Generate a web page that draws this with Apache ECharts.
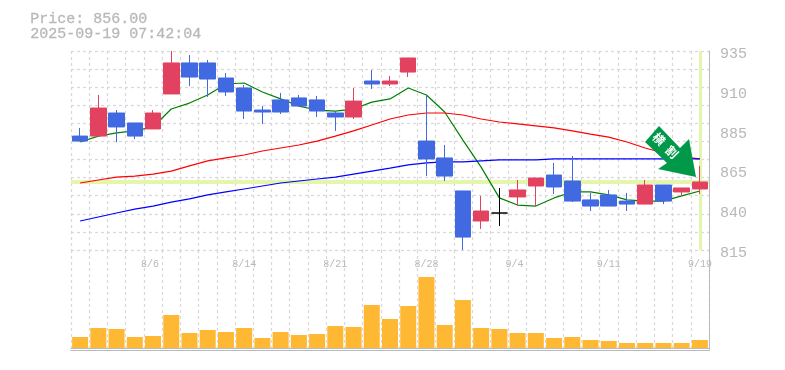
<!DOCTYPE html>
<html><head><meta charset="utf-8">
<style>html,body{margin:0;padding:0;background:#fff}#c{width:785px;height:370px}</style>
<script src="https://cdn.jsdelivr.net/npm/echarts@6/dist/echarts.min.js"></script>
</head><body><div id="c"></div>
<script>
const dateLabels = {4:'8/6',9:'8/14',14:'8/21',19:'8/28',24:'9/4',29:'9/11',34:'9/19'};
const categories = Array.from({length:35},(_,i)=>dateLabels[i]||('d'+i));
const opens  = [883.7,883.7,897.6,891.6,888,909.1,927.8,927.8,918.7,912.7,899.4,905.5,906.7,905.5,897.6,895.2,916.9,915.1,922.3,880.7,870.5,850.6,832.5,837.3,847,853.6,860.2,856.6,845.2,848.2,844.5,842.7,854.2,850,851.8];
const closes = [880.7,900.6,889.2,883.7,897.6,927.8,919.3,918.1,910.3,898.8,898.2,898.2,901.8,898.8,895.2,904.8,915.1,916.9,930.8,869.9,859.6,822.8,838.5,837.3,851.2,858.4,853,844.5,841.5,841.5,842.7,854.2,844.5,852.4,856];
const lows   = [880.7,883.7,880,881.9,888,909.1,913.9,907.3,907.9,894,891,897,901.8,895.2,886.8,894,912.1,913.9,919.3,859.6,856.6,815,827.7,829.5,841.5,841.5,848.8,843.9,838.5,841.5,838.5,842.7,842.7,847.6,848.8];
const highs  = [888.6,908.5,899.4,891.6,899.4,935,932.6,929.6,921.7,914.5,901.8,909.7,908.5,907.9,898.8,912.7,923.5,919.9,930.8,908.5,878.3,850.6,847.6,852.4,857.2,858.4,867.5,871.7,849.4,851.2,849.4,857.2,854.2,852.4,865.7];
const maShort = [880.1,883.7,885.6,886.8,889.2,900,903.6,908.5,915.1,915.7,910.3,906.1,901.8,899.4,898.8,900,904.2,906.1,912.7,908.5,898.2,881.3,865,846.4,842.1,841.5,846.4,850,850,848.2,845.2,844.5,844.5,847.6,850.6];
const maMid = [855.4,857.2,859,859.6,860.8,862.6,865.7,868.7,870.5,872.3,874.7,876.5,878.3,880.7,883.7,886.8,890.4,894,896.4,897.6,897.6,896.4,894,892.2,891,889.8,888.6,886.8,884.9,883.1,880.1,876.5,873.5,871.1,869.9];
const maLong = [832.5,834.9,837.3,839.7,841.5,843.9,845.8,848.2,850,851.8,853.6,855.4,856.6,857.8,859,860.8,862.6,864.4,866.3,867.5,868.1,868.1,868.7,869.3,869.3,869.3,869.9,869.9,869.9,869.9,869.9,869.9,869.9,869.9,869.9];
const volumes = [11,20,19,11,12,33,15,18,16,20,10,16,13,14,22,21,43,29,42,71,23,48,20,19,15,15,10,11,8,7,5,5,5,5,8];
const priceTicks = [815,839,863,887,911,935];
const priceTickLabels = ['815','840','865','885','910','935'];
const lastPrice = 856;
const titleLines = ['Price: 856.00','2025-09-19 07:42:04'];
const arrowText = ['横','割'];

const UP='#E2425F', DOWN='#4169E1', GRID='#d9d9d9', AXIS='#bbbbbb', TXT='#b8b8b8', BAND='#E4F5AC';
const FONT='"Liberation Mono", monospace';
const dash={type:[3,3],color:GRID,width:1.3};
const candle = categories.map((_,i)=>{
  const v=[opens[i],closes[i],lows[i],highs[i]];
  return opens[i]===closes[i]?{value:v,itemStyle:{color:'#000',color0:'#000',borderColor:'#000',borderColor0:'#000',borderColorDoji:'#000',borderWidth:1}}:v;
});
const chart=echarts.init(document.getElementById('c'),null,{renderer:'canvas'});
const ma=(name,data,color)=>({name,type:'line',data,symbol:'none',smooth:false,z:4,xAxisIndex:0,yAxisIndex:0,lineStyle:{color,width:1.2},silent:true});
chart.setOption({
  animation:false,
  backgroundColor:'#fff',
  textStyle:{fontFamily:FONT},
  grid:[{left:71,top:51,width:638,height:199},{left:71,top:250,width:638,height:100}],
  graphic:[
    {type:'text',left:30,top:11,z:10,style:{text:titleLines.join('\n'),font:'15px '+FONT,fill:TXT,stroke:TXT,lineWidth:0.3,lineHeight:15}},
    {type:'polygon',z:20,shape:{points:[[659,126],[645,142],[667,163],[658,169],[696,177],[689,139],[680,148]]},style:{fill:'#00994A'}},
    {type:'text',z:21,x:659,y:139,rotation:-Math.PI/4,style:{text:arrowText[0],font:'bold 12px "Noto Sans CJK JP"',fill:'#fff',align:'center',verticalAlign:'middle'}},
    {type:'text',z:21,x:672,y:152,rotation:-Math.PI/4,style:{text:arrowText[1],font:'bold 12px "Noto Sans CJK JP"',fill:'#fff',align:'center',verticalAlign:'middle'}}
  ],
  xAxis:[
    {type:'category',gridIndex:0,data:categories,boundaryGap:true,
      axisLine:{show:false},axisTick:{show:false},
      axisLabel:{show:false},
      splitLine:{show:true,interval:0,lineStyle:dash}},
    {type:'category',gridIndex:1,data:categories,boundaryGap:true,position:'top',
      axisLine:{show:true,lineStyle:{color:AXIS,width:1}},axisTick:{show:false},
      axisLabel:{show:true,inside:true,interval:0,margin:9,color:TXT,fontSize:10,fontFamily:FONT,
        formatter:(v,i)=>dateLabels[i]?`{a|${v}}`:'',
        rich:{a:{width:24,align:'left',color:TXT,fontSize:10,fontFamily:FONT}}},
      splitLine:{show:true,interval:0,lineStyle:dash}},
    {type:'category',gridIndex:1,data:categories,position:'bottom',
      axisLine:{show:true,onZero:false,lineStyle:{color:AXIS,width:1}},axisTick:{show:false},axisLabel:{show:false},splitLine:{show:false}}
  ],
  yAxis:[
    {type:'value',gridIndex:0,position:'right',min:815,max:935,
      axisLine:{show:true,lineStyle:{color:AXIS,width:1}},axisTick:{show:false},splitLine:{show:false},
      axisLabel:{color:TXT,fontSize:15,fontFamily:FONT,margin:11,customValues:priceTicks,
        formatter:v=>`{a|${priceTickLabels[priceTicks.indexOf(v)]??''}}`,
        rich:{a:{color:TXT,fontSize:15,fontFamily:FONT,padding:[6,0,0,0]}}}},
    {type:'value',gridIndex:0,min:0,max:11,interval:1,
      axisLine:{show:false},axisTick:{show:false},axisLabel:{show:false},
      splitLine:{show:true,lineStyle:dash}},
    {type:'value',gridIndex:1,position:'right',min:-2,max:98,
      axisLine:{show:true,lineStyle:{color:AXIS,width:1}},axisTick:{show:false},axisLabel:{show:false},splitLine:{show:false}}
  ],
  series:[
    {name:'guides',type:'line',data:[],xAxisIndex:0,yAxisIndex:0,z:2,silent:true,
      markLine:{silent:true,symbol:'none',label:{show:false},animation:false,z:2,
        lineStyle:{color:BAND,type:'solid',width:4},
        data:[{yAxis:lastPrice},{xAxis:categories[34],lineStyle:{color:BAND,type:'solid',width:3}}]}},
    ma('短期',maShort,'#008000'),ma('中期',maMid,'#ff0000'),ma('長期',maLong,'#0000ff'),
    {name:'価格',type:'candlestick',xAxisIndex:0,yAxisIndex:0,data:candle,barWidth:16,z:5,
      itemStyle:{color:UP,color0:DOWN,borderColor:UP,borderColor0:DOWN,borderWidth:1}},
    {name:'出来高',type:'bar',xAxisIndex:1,yAxisIndex:2,data:volumes,barWidth:16,z:3,
      itemStyle:{color:'#FFB833'}}
  ]
});
</script></body></html>
